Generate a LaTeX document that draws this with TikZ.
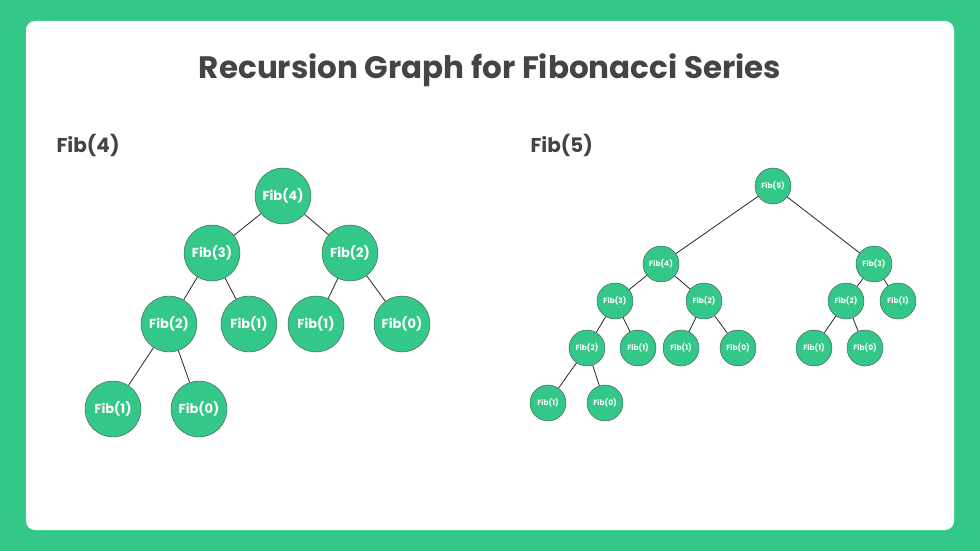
\documentclass[tikz,border=0pt]{standalone}
\usepackage{fontspec}
\setmainfont{Poppins}
\usepackage{xcolor}
\usepackage{tikz}
\usetikzlibrary{calc, positioning}

\definecolor{gfgreen}{HTML}{33C88A}
\definecolor{darktext}{HTML}{444444}

\begin{document}
\begin{tikzpicture}[x=1pt, y=-1pt,
    bignode/.style={circle, draw=black!70, fill=gfgreen, minimum size=56pt, inner sep=0pt,
        text=white, font=\fontsize{13}{15}\selectfont\bfseries},
    smallnode/.style={circle, draw=black!70, fill=gfgreen, minimum size=36pt, inner sep=0pt,
        text=white, font=\fontsize{7.5}{9}\selectfont\bfseries},
    edge/.style={draw=black!85, line width=0.8pt}]
    % Fond et cadre
    \fill[gfgreen] (0,0) rectangle (980,551);
    \fill[white, rounded corners=9pt] (26,21) rectangle (954,530);
    \useasboundingbox (0,0) rectangle (980,551);

    % Titres
    \node[text=darktext, font=\fontsize{31}{34}\selectfont\bfseries] (title) at (490,70)
        {Recursion Graph for Fibonacci Series};
    \node[text=darktext, font=\fontsize{20}{23}\selectfont\bfseries, anchor=west] (lbla) at (53,145) {Fib(4)};
    \node[text=darktext, font=\fontsize{20}{23}\selectfont\bfseries, anchor=west] (lblb) at (527,145) {Fib(5)};

    % Arbre de Fib(4)
    \node[bignode] (a4) at (283,196) {Fib(4)};
    \node[bignode] (a3) at (212,253) {Fib(3)};
    \node[bignode] (a2) at (350,253) {Fib(2)};
    \node[bignode] (a32) at (169,324) {Fib(2)};
    \node[bignode] (a31) at (249,324) {Fib(1)};
    \node[bignode] (a21) at (316,324) {Fib(1)};
    \node[bignode] (a20) at (402,324) {Fib(0)};
    \node[bignode] (a321) at (113,409) {Fib(1)};
    \node[bignode] (a320) at (199,409) {Fib(0)};
    \foreach \p/\c in {a4/a3, a4/a2, a3/a32, a3/a31, a2/a21, a2/a20, a32/a321, a32/a320} {
        \draw[edge] (\p) -- (\c);
    }

    % Arbre de Fib(5)
    \node[smallnode] (b5) at (773,186) {Fib(5)};
    \node[smallnode] (b4) at (661,264) {Fib(4)};
    \node[smallnode] (b3) at (874,264) {Fib(3)};
    \node[smallnode] (b43) at (615,301) {Fib(3)};
    \node[smallnode] (b42) at (704,301) {Fib(2)};
    \node[smallnode] (b32) at (846,301) {Fib(2)};
    \node[smallnode] (b31) at (898,301) {Fib(1)};
    \node[smallnode] (b432) at (587,348) {Fib(2)};
    \node[smallnode] (b431) at (638,348) {Fib(1)};
    \node[smallnode] (b421) at (681,348) {Fib(1)};
    \node[smallnode] (b420) at (738,348) {Fib(0)};
    \node[smallnode] (b321) at (814,348) {Fib(1)};
    \node[smallnode] (b320) at (865,348) {Fib(0)};
    \node[smallnode] (b4321) at (548,403) {Fib(1)};
    \node[smallnode] (b4320) at (605,403) {Fib(0)};
    \foreach \p/\c in {b5/b4, b5/b3, b4/b43, b4/b42, b3/b32, b3/b31, b43/b432, b43/b431,
        b42/b421, b42/b420, b32/b321, b32/b320, b432/b4321, b432/b4320} {
        \draw[edge] (\p) -- (\c);
    }
\end{tikzpicture}
\end{document}
